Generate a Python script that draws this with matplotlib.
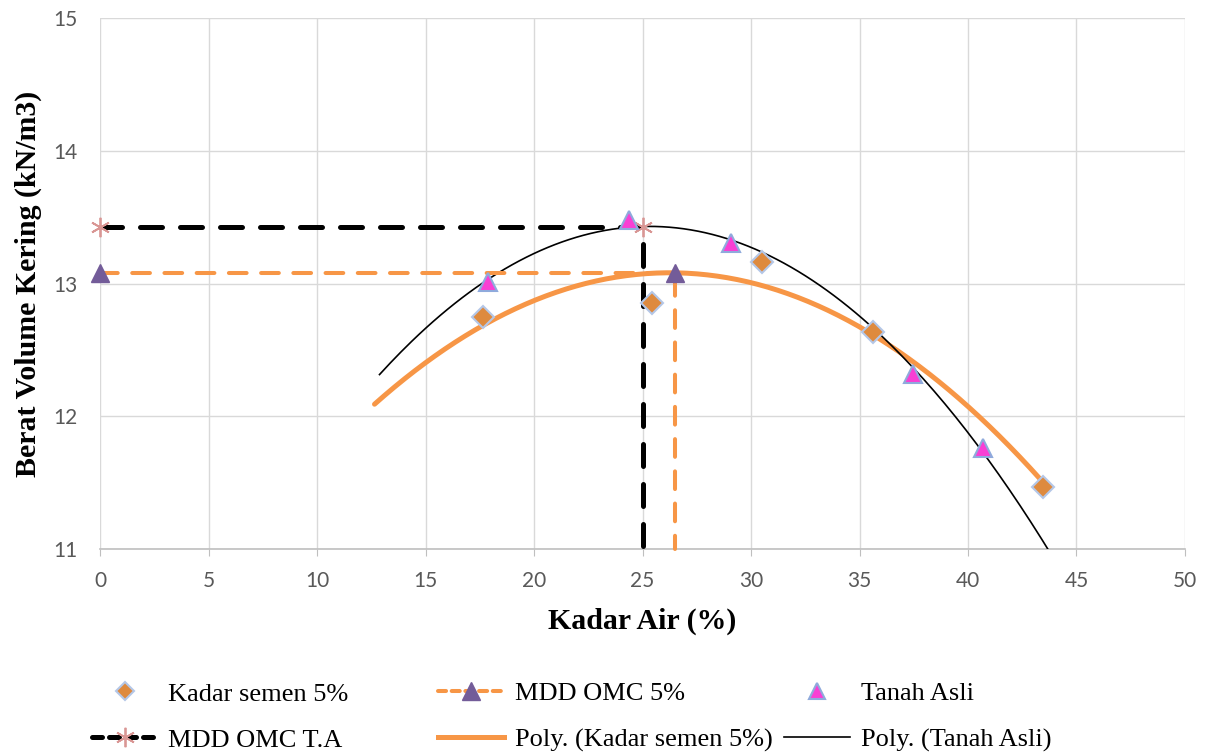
import matplotlib.pyplot as plt
from matplotlib.lines import Line2D
import numpy as np

# Data
semen_x = [17.65, 25.44, 30.5, 35.62, 43.46]
semen_y = [12.75, 12.85, 13.16, 12.635, 11.47]

tanah_x = [17.88, 24.4, 29.1, 37.47, 40.7]
tanah_y = [13.01, 13.48, 13.305, 12.32, 11.76]

mdd5_x = [0, 26.5, 26.5]
mdd5_y = [13.08, 13.08, 11.0]

mddta_x = [0, 25.0, 25.0]
mddta_y = [13.43, 13.43, 11.0]

orange = '#F79646'
diamond_fill = '#DE8A3E'
magenta = '#F93FD4'
purple = '#735C99'
rose = '#D99694'
edge_blue = '#B4C7E7'
grid_c = '#D9D9D9'
tick_c = '#595959'

fig = plt.figure(figsize=(12.05, 7.55), dpi=100)
ax = fig.add_axes([0.083, 0.2728, 0.9004, 0.7032])

# Polynomial trendlines (2nd order, 5 units backward forecast)
cs = np.polyfit(semen_x, semen_y, 2)
xs = np.linspace(min(semen_x) - 5, max(semen_x), 200)
ax.plot(xs, np.polyval(cs, xs), color=orange, lw=3.6, solid_capstyle='round', zorder=3)

ct = np.polyfit(tanah_x, tanah_y, 2)
xt = np.linspace(min(tanah_x) - 5, max(tanah_x) + 5, 200)
ax.plot(xt, np.polyval(ct, xt), color='black', lw=1.2, zorder=3)

# MDD / OMC guide lines
ax.plot(mddta_x, mddta_y, color='black', lw=3.6, dashes=(4.4, 3.6), dash_capstyle='round',
        marker=(6, 2, 0), markevery=[0, 1], ms=14, mec=rose, mew=1.3, zorder=4, clip_on=False)
ax.plot(mdd5_x, mdd5_y, color=orange, lw=2.9, dashes=(4.4, 3.6), dash_capstyle='round',
        marker='^', markevery=[0, 1], ms=13, mfc=purple, mec=purple, zorder=4, clip_on=False)

# Data points
ax.plot(semen_x, semen_y, ls='none', marker='D', ms=11, mfc=diamond_fill, mec=edge_blue, mew=1.5, zorder=5)
ax.plot(tanah_x, tanah_y, ls='none', marker='^', ms=13, mfc=magenta, mec='#8FAADC', mew=1.5, zorder=5)

ax.set_xlim(0, 50)
ax.set_ylim(11, 15)
ax.set_xticks(range(0, 51, 5))
ax.set_yticks(range(11, 16))
ax.grid(True, color=grid_c, lw=1)
ax.set_axisbelow(True)
for s in ['top', 'right', 'left']:
    ax.spines[s].set_visible(False)
ax.spines['bottom'].set_color('#BFBFBF')
ax.spines['bottom'].set_linewidth(1.2)
ax.tick_params(axis='y', length=0, pad=16, labelsize=15, labelcolor=tick_c)
ax.tick_params(axis='x', length=5, color='#BFBFBF', pad=11, labelsize=15, labelcolor=tick_c)
for lab in ax.get_xticklabels() + ax.get_yticklabels():
    lab.set_family(['Lato', 'DejaVu Sans'])

ax.set_xlabel('Kadar Air (%)', family='Liberation Serif', fontweight='bold', fontsize=21.5, labelpad=12)
ax.set_ylabel('Berat Volume Kering (kN/m3)', family='Liberation Serif', fontweight='bold', fontsize=21.5, labelpad=8)

# Legend: three columns placed like the original
h_semen = Line2D([], [], ls='none', marker='D', ms=9, mfc=diamond_fill, mec=edge_blue, mew=1.5)
h_mdd5 = Line2D([], [], color=orange, lw=2.9, dashes=(2.0, 1.4), dash_capstyle='round',
                marker='^', ms=13, mfc=purple, mec=purple)
h_tanah = Line2D([], [], ls='none', marker='^', ms=12, mfc=magenta, mec='#8FAADC', mew=1.5)
h_mddta = Line2D([], [], color='black', lw=3.6, dashes=(2.0, 1.4), dash_capstyle='round',
                 marker=(6, 2, 0), ms=14, mec=rose, mew=1.3)
h_psemen = Line2D([], [], color=orange, lw=3.6)
h_ptanah = Line2D([], [], color='black', lw=1.2)

columns = [
    ([h_semen, h_mddta], ['Kadar semen 5%', 'MDD OMC T.A'], 0.0763),
    ([h_mdd5, h_psemen], ['MDD OMC 5%', 'Poly. (Kadar semen 5%)'], 0.3635),
    ([h_tanah, h_ptanah], ['Tanah Asli', 'Poly. (Tanah Asli)'], 0.6506),
]
for hs, ls, x0 in columns:
    fig.legend(hs, ls, loc='center left', bbox_to_anchor=(x0, 0.0505),
               frameon=False, prop={'family': 'Liberation Serif', 'size': 19},
               handlelength=2.5, handletextpad=0.4, labelspacing=0.85,
               borderpad=0, borderaxespad=0)

fig.savefig('out.png', dpi=100)
